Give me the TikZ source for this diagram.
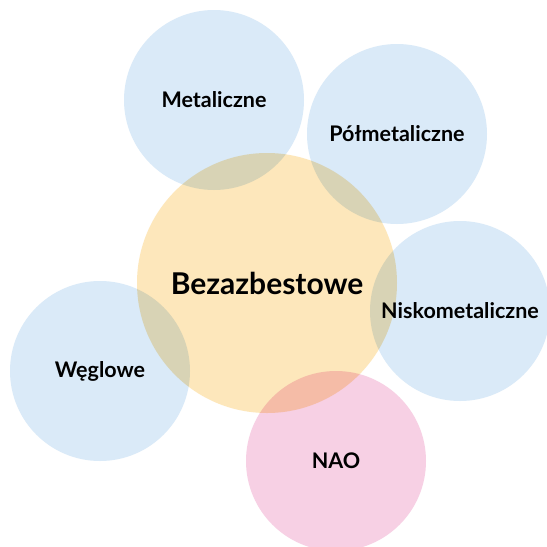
\documentclass[tikz,border=0pt]{standalone}
\usepackage{fontspec}
\setmainfont{Lato}
\usepackage{xcolor}
\usepackage{tikz}
\usetikzlibrary{positioning}
\definecolor{typeblue}{RGB}{218, 234, 248}
\definecolor{mainyellow}{RGB}{253, 231, 187}
\definecolor{naopink}{RGB}{247, 208, 228}

\begin{document}
\begin{tikzpicture}[
    x=1pt, y=-1pt,
    bubble/.style={circle, minimum size=180pt, inner sep=0pt, font=\fontsize{21.5}{24}\selectfont\bfseries},
    sub/.style={bubble, fill=typeblue},
    core/.style={bubble, fill=mainyellow, minimum size=260pt, font=\fontsize{30}{34}\selectfont\bfseries},
    nao/.style={bubble, fill=naopink}
]
    % Frame of the picture
    \clip (0, 0) rectangle (547, 547);
    \fill[white] (0, 0) rectangle (547, 547);

    \begin{scope}[blend mode=multiply]
    % Blue types round the centre
    \node[sub] (metal) at (214, 100) {Metaliczne};
    \node[sub] (semi) at (397, 134) {Półmetaliczne};
    \node[sub] (lowmetal) at (460, 311) {Niskometaliczne};
    \node[sub] (carbon) at (100, 371) {Węglowe};

    % Centre
    \node[core] (nonasb) at (267, 283) {Bezazbestowe};

    % Pink one below
    \node[nao] (nao) at (336, 461) {NAO};
    \end{scope}

\end{tikzpicture}
\end{document}
